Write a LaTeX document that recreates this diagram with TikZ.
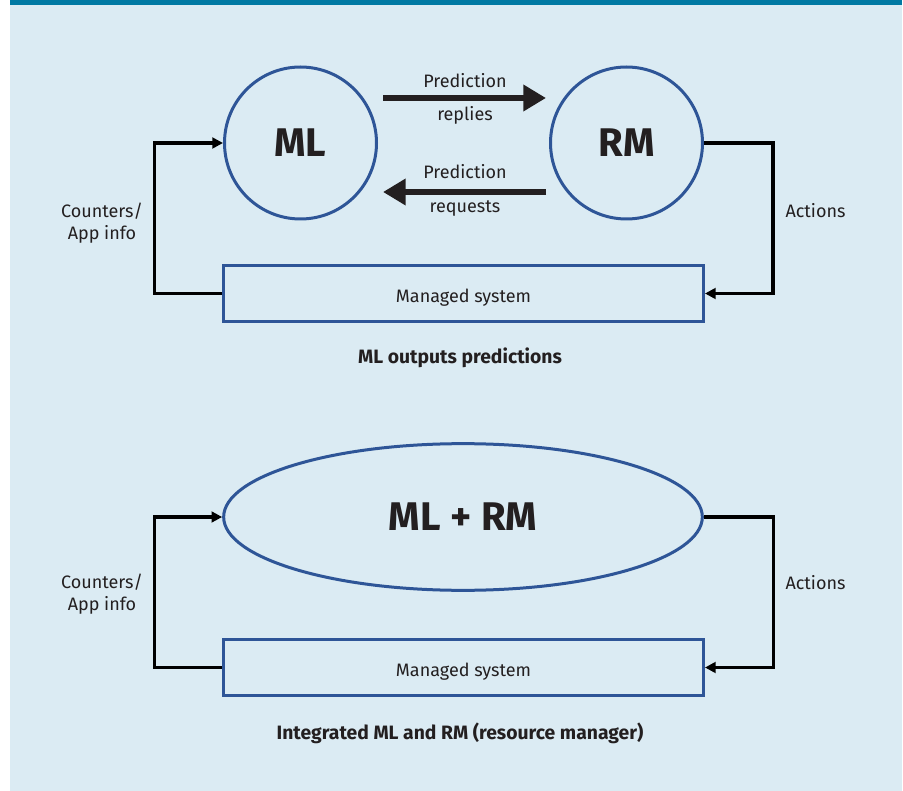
\documentclass[tikz,border=0pt]{standalone}
\usepackage{fontspec}
\setmainfont{Fira Sans}
\usetikzlibrary{arrows.meta,shapes.geometric}
\definecolor{bgblue}{HTML}{DBEBF3}
\definecolor{barblue}{HTML}{0079A3}
\definecolor{edgeblue}{HTML}{2E5597}
\definecolor{ink}{HTML}{231F20}
\begin{document}
\begin{tikzpicture}[x=0.75pt,y=-0.75pt,
  every node/.style={text=ink,font=\fontsize{13.5}{16}\selectfont},
  circ/.style={circle,draw=edgeblue,line width=2.25pt,minimum size=114pt,inner sep=0pt,
    font=\fontsize{30}{34}\selectfont\bfseries},
  ell/.style={ellipse,draw=edgeblue,line width=2.25pt,minimum width=359pt,minimum height=110pt,
    inner sep=0pt,font=\fontsize{30}{34}\selectfont\bfseries},
  sysbox/.style={rectangle,draw=edgeblue,line width=2.25pt,minimum width=360pt,minimum height=42pt,
    inner sep=0pt,text height=14pt,text depth=0pt},
  conn/.style={draw=black,line width=2.5pt,-{Triangle[length=8pt,width=8pt]}},
  bigarrow/.style={draw=ink,line width=4.5pt,-{Triangle[length=17pt,width=19pt]}},
  lbl/.style={anchor=base},
  sidelbl/.style={align=center},
  caption/.style={anchor=base,font=\fontsize{14.5}{17}\selectfont\bfseries}]
\useasboundingbox (0,0) rectangle (903,791);
\fill[white] (0,0) rectangle (903,791);
\fill[bgblue] (10,0) rectangle (902,791);
\fill[barblue] (10,0) rectangle (902,5);

% ---------- top diagram ----------
\node[circ] (ML) at (300.5,143) {ML};
\node[circ] (RM) at (626.5,143) {RM};
\node[sysbox] (sys1) at (463.5,293.5) {Managed system};

\coordinate (a1) at (383,98);
\coordinate (a2) at (546,98);
\coordinate (b1) at (546,192);
\coordinate (b2) at (383,192);
\draw[bigarrow] (a1) -- (a2);
\draw[bigarrow] (b1) -- (b2);
\node[lbl] (p1) at (465,88) {Prediction};
\node[lbl] (p2) at (465,121) {replies};
\node[lbl] (p3) at (465,179) {Prediction};
\node[lbl] (p4) at (465,213) {requests};

\draw[conn] (sys1.west) -- ++(-67.5,0) |- (ML.west);
\draw[conn] (RM.east) -- ++(69,0) |- (sys1.east);
\node[sidelbl] (cnt1) at (102,223) {Counters/\\App info};
\node[lbl] (act1) at (815.5,218) {Actions};
\node[caption] (cap1) at (460,364) {ML outputs predictions};

% ---------- bottom diagram ----------
\node[ell] (MLRM) at (463,517) {ML + RM};
\node[sysbox] (sys2) at (463.5,667.5) {Managed system};
\draw[conn] (sys2.west) -- ++(-67.5,0) |- (MLRM.west);
\draw[conn] (MLRM.east) -- ++(69.5,0) |- (sys2.east);
\node[sidelbl] (cnt2) at (102,594) {Counters/\\App info};
\node[lbl] (act2) at (815.5,589) {Actions};
\node[caption] (cap2) at (460,739) {Integrated ML and RM (resource manager)};
\end{tikzpicture}
\end{document}
